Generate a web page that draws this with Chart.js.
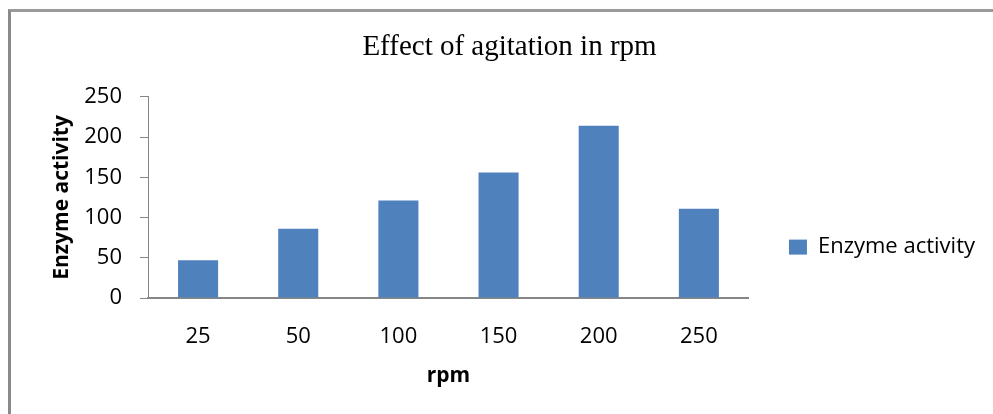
<!DOCTYPE html>
<html>
<head>
<meta charset="utf-8">
<script src="https://cdn.jsdelivr.net/npm/chart.js@4.4.1/dist/chart.umd.min.js"></script>
<style>
    html, body { margin: 0; padding: 0; background: #fff; }
    #wrap { position: relative; width: 993px; height: 414px; overflow: hidden; }
    #frame {
        position: absolute; left: 8px; top: 9px; width: 1000px; height: 500px;
        border-left: 3px solid #8a8a8a; border-top: 3px solid #9a9a9a;
    }
    #chart { position: absolute; left: 0; top: 0; }
</style>
</head>
<body>
<div id="wrap">
    <div id="frame"></div>
    <canvas id="chart" width="993" height="414"></canvas>
</div>
<script>
// data
const rpmLabels = ['25', '50', '100', '150', '200', '250'];
const enzymeActivity = [47, 86, 121, 156, 214, 111];
const yTicks = [0, 50, 100, 150, 200, 250];

const axisGray = '#868686';
const barBlue = '#4F81BD';
const sans = '"Open Sans", "Liberation Sans", sans-serif';

const ctx = document.getElementById('chart');

new Chart(ctx, {
    type: 'bar',
    data: {
        labels: rpmLabels,
        datasets: [{
            label: 'Enzyme activity',
            data: enzymeActivity,
            backgroundColor: barBlue,
            borderWidth: 0,
            barPercentage: 0.4,
            categoryPercentage: 1.0
        }]
    },
    options: {
        responsive: false,
        animation: false,
        devicePixelRatio: 1,
        layout: { padding: { left: 34, right: 8, top: 0, bottom: 0 } },
        plugins: {
            title: {
                display: true,
                text: 'Effect of agitation in rpm',
                color: '#000',
                font: { family: '"Liberation Serif", "Times New Roman", serif', size: 29, weight: 'normal' },
                padding: { top: 30, bottom: 32 }
            },
            legend: {
                position: 'right',
                align: 'center',
                // empty title only pushes the entry down to where the reference has it
                title: {
                    display: true,
                    text: ' ',
                    font: { size: 1 },
                    padding: { top: 79, bottom: 0 }
                },
                labels: {
                    color: '#000',
                    font: { family: sans, size: 22 },
                    boxWidth: 18,
                    boxHeight: 15,
                    padding: 40
                }
            },
            tooltip: { enabled: false }
        },
        scales: {
            x: {
                grid: { display: false, drawTicks: false },
                border: { color: axisGray, width: 2 },
                ticks: {
                    color: '#000',
                    font: { family: sans, size: 22 },
                    padding: 26,
                    maxRotation: 0
                },
                title: {
                    display: true,
                    text: 'rpm',
                    color: '#000',
                    font: { family: sans, size: 21, weight: 'bold' },
                    padding: { top: 0, bottom: 25 }
                },
                afterFit: (scale) => { scale.height = 116; }
            },
            y: {
                min: 0,
                max: 250,
                afterBuildTicks: (scale) => { scale.ticks = yTicks.map(v => ({ value: v })); },
                grid: { drawOnChartArea: false, drawTicks: true, tickLength: 8, color: axisGray },
                border: { color: axisGray, width: 1 },
                ticks: {
                    color: '#000',
                    font: { family: sans, size: 22 },
                    padding: 18
                },
                title: {
                    display: true,
                    text: 'Enzyme activity',
                    color: '#000',
                    font: { family: sans, size: 21, weight: 'bold' },
                    padding: { top: 15, bottom: 0 }
                },
                afterFit: (scale) => { scale.width = 114; }
            }
        }
    }
});
</script>
</body>
</html>
